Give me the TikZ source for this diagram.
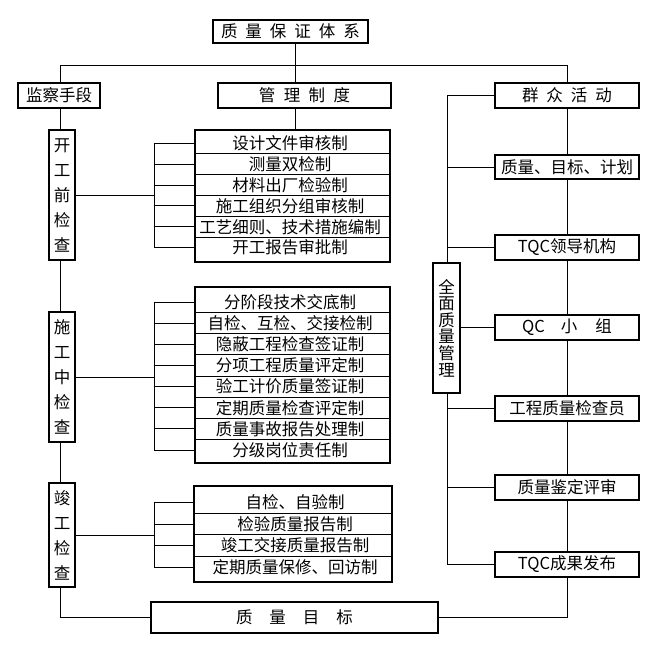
\documentclass[tikz,border=0pt]{standalone}
\usepackage{fontspec}
\setmainfont{Noto Sans CJK SC}
\usetikzlibrary{backgrounds,shadows}
\newcommand\gp[1]{\hspace{#1pt}}
\begin{document}
\begin{tikzpicture}[x=1pt,y=-1pt,
  conn/.style={line width=0.9pt},
  div/.style={line width=0.9pt},
  box/.style={draw, line width=1.4pt, fill=white, inner sep=0pt,
    font=\fontsize{16.5}{18}\selectfont,
    drop shadow={shadow xshift=0.7pt, shadow yshift=-0.7pt, opacity=1, fill=black}},
  rbox/.style={box, minimum width=144pt, minimum height=25pt},
  vbox/.style={box, minimum width=26pt, align=center, font=\fontsize{16.5}{25}\selectfont},
  txt/.style={inner sep=0pt, font=\fontsize{16.5}{18}\selectfont}]
\useasboundingbox (0,0) rectangle (647,672);

% top
\node[box, minimum width=155pt, minimum height=23pt] (Q) at (290.5,31.5) {质\gp{8}量\gp{8}保\gp{8}证\gp{8}体\gp{8}系\hspace{6pt}};
\node[box, minimum width=82pt, minimum height=25pt] (JC) at (59,95.5) {监察手段};
\node[box, minimum width=173pt, minimum height=25pt] (GL) at (304.5,95.5) {管\gp{8.5}理\gp{8.5}制\gp{8.5}度\hspace{30pt}};

% left check boxes
\node[vbox, minimum height=130pt] (K1) at (62,195) {开\\工\\前\\检\\查};
\node[vbox, minimum height=130pt] (K2) at (62,377) {施\\工\\中\\检\\查};
\node[vbox, minimum height=104pt] (K3) at (62,535) {竣\\工\\检\\查};

% big boxes
\node[box, minimum width=195pt, minimum height=132pt] (B1) at (292.5,196) {};
\foreach \i in {0,...,4} \draw[div] (195,{153.9+20.8*\i}) -- (390,{153.9+20.8*\i});
\foreach \t [count=\i from 0] in {设计文件审核制,测量双检制,材料出厂检验制,施工组织分组审核制,工艺细则、技术措施编制,开工报告审批制}
  \node[txt] (b1r\i) at (290,{143.5+20.8*\i}) {\t};

\node[box, minimum width=195pt, minimum height=176pt] (B2) at (292.5,375) {};
\foreach \i in {0,...,6} \draw[div] (195,{312.6+21.14*\i}) -- (390,{312.6+21.14*\i});
\foreach \t [count=\i from 0] in {分阶段技术交底制,自检、互检、交接检制,隐蔽工程检查签证制,分项工程质量评定制,验工计价质量签证制,定期质量检查评定制,质量事故报告处理制,分级岗位责任制}
  \node[txt] (b2r\i) at (290,{302+21.14*\i}) {\t};

\node[box, minimum width=198pt, minimum height=96pt] (B3) at (293,534) {};
\foreach \i in {0,...,2} \draw[div] (194,{513.3+21.5*\i}) -- (392,{513.3+21.5*\i});
\foreach \t [count=\i from 0] in {自检、自验制,检验质量报告制,竣工交接质量报告制,定期质量保修、回访制}
  \node[txt] (b3r\i) at (295,{502.5+21.5*\i}) {\t};

% bottom goal
\node[box, minimum width=287pt, minimum height=31pt] (ZM) at (294.5,617.5) {质\gp{17}量\gp{17}目\gp{17}标};

% right side
\node[rbox] (QZ) at (567,95.5) {群\gp{8}众\gp{8}活\gp{8}动\hspace{7pt}};
\node[rbox, minimum height=24pt] (MB) at (567,167) {质量、目标、计划};
\node[rbox] (TL) at (567,247.5) {TQC领导机构};
\node[rbox] (QC) at (567,327.5) {QC\gp{16}小\gp{18}组\hspace{7pt}};
\node[rbox] (GC) at (567,408.5) {工程质量检查员};
\node[rbox] (JD) at (567,487.5) {质量鉴定评审};
\node[rbox] (CF) at (567,564.5) {TQC成果发布};
\node[box, minimum width=27pt, minimum height=130pt, align=center, font=\fontsize{16.5}{16.6}\selectfont] (QM) at (446.5,328) {全\\面\\质\\量\\管\\理};

% connectors
\coordinate (LT) at (60,65);
\coordinate (RT) at (567,65);
\coordinate (jx) at (295,0);
\coordinate (rb) at (447,0);
\coordinate (k) at (154,0);
\begin{scope}[on background layer]
\draw[conn] (LT) -- (RT);
\draw[conn] (LT) -- (LT |- ZM.west) -- (ZM.west);
\draw[conn] (RT) -- (RT |- ZM.east) -- (ZM.east);
\draw[conn] (jx |- Q.south) -- (jx |- B1.north);
\draw[conn] (rb |- QZ.west) -- (rb |- CF.west);
\foreach \n in {QZ,MB,TL,GC,JD,CF} \draw[conn] (rb |- \n.west) -- (\n.west);
\draw[conn] (QM.east |- QC.west) -- (QC.west);
% left brackets
\draw[conn] (k |- b1r0) -- (k |- b1r5);
\foreach \i in {0,...,5} \draw[conn] (k |- b1r\i) -- (B1.west |- b1r\i);
\draw[conn] (K1.east) -- (K1.east -| k);
\draw[conn] (k |- b2r0) -- (k |- b2r7);
\foreach \i in {0,...,7} \draw[conn] (k |- b2r\i) -- (B2.west |- b2r\i);
\draw[conn] (K2.east) -- (K2.east -| k);
\draw[conn] (k |- b3r0) -- (k |- b3r3);
\foreach \i in {0,...,3} \draw[conn] (k |- b3r\i) -- (B3.west |- b3r\i);
\draw[conn] (K3.east) -- (K3.east -| k);
\end{scope}
\end{tikzpicture}
\end{document}
